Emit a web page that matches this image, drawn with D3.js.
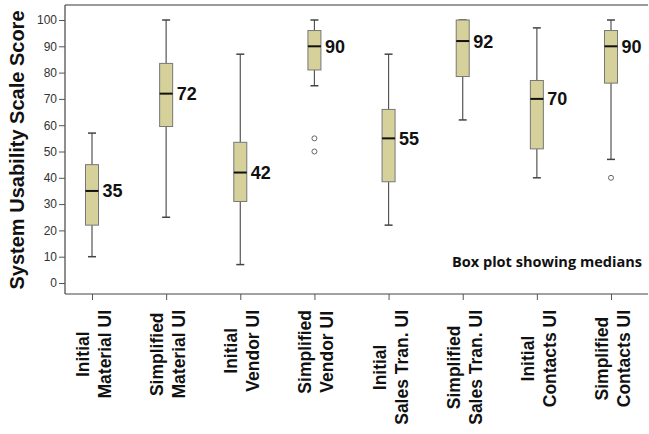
<!DOCTYPE html>
<html><head><meta charset="utf-8">
<script src="https://cdn.jsdelivr.net/npm/d3@7/dist/d3.min.js"></script>
<style>body{margin:0;background:#fff}svg{display:block}</style>
</head><body>
<script>
const categories = [
  ["Initial","Material UI"],["Simplified","Material UI"],
  ["Initial","Vendor UI"],["Simplified","Vendor UI"],
  ["Initial","Sales Tran. UI"],["Simplified","Sales Tran. UI"],
  ["Initial","Contacts UI"],["Simplified","Contacts UI"]
];
const whiskerLow  = [10, 25, 7, 75, 22, 62, 40, 47];
const q1          = [22, 59.5, 31, 81, 38.5, 78.5, 51, 76];
const medians     = [35, 72, 42, 90, 55, 92, 70, 90];
const q3          = [45, 83.5, 53.5, 96, 66, 100, 77, 96];
const whiskerHigh = [57, 100, 87, 100, 87, 100, 97, 100];
const outliers    = [[], [], [], [55, 50], [], [], [], [40]];
const yTicks = [0,10,20,30,40,50,60,70,80,90,100];
const yTitle = "System Usability Scale Score";
const note = "Box plot showing medians";

(function () {
const W = 649, H = 434;
const svg = d3.select("body").append("svg").attr("width", W).attr("height", H);
const pLeft = 65, pRight = 648, pTop = 5, pBottom = 294;

const x = d3.scalePoint().domain(d3.range(categories.length)).range([92, 611]);
const y = d3.scaleLinear().domain([0, 100]).range([283, 20]);

// frame
svg.append("line").attr("x1", pLeft).attr("x2", pRight).attr("y1", pTop).attr("y2", pTop)
  .attr("stroke", "#9a9a9a").attr("stroke-width", 2);
svg.append("line").attr("x1", pLeft).attr("x2", pLeft).attr("y1", pTop).attr("y2", pBottom)
  .attr("stroke", "#444").attr("stroke-width", 1.2);
svg.append("line").attr("x1", pLeft).attr("x2", pRight).attr("y1", pBottom).attr("y2", pBottom)
  .attr("stroke", "#444").attr("stroke-width", 1.2);

// y axis
const ya = svg.append("g").attr("transform", `translate(${pLeft},0)`)
  .call(d3.axisLeft(y).tickValues(yTicks).tickSize(6).tickPadding(2));
ya.select(".domain").remove();
ya.selectAll("line").attr("stroke", "#555");
ya.selectAll("text").attr("font-family", "Liberation Sans, Arial, sans-serif")
  .attr("font-size", 12).attr("fill", "#333");

// x axis ticks
const xa = svg.append("g").attr("transform", `translate(0,${pBottom})`)
  .call(d3.axisBottom(x).tickSize(6).tickFormat(""));
xa.select(".domain").remove();
xa.selectAll("line").attr("stroke", "#555");

// x labels
const labFont = "Liberation Sans, Arial, sans-serif";
categories.forEach((lines, i) => {
  const g = svg.append("g");
  const tx = x(i);
  const offs = [-3, 19];
  const texts = lines.map((s, j) => g.append("text").text(s)
    .attr("font-family", labFont).attr("font-weight", "bold").attr("font-size", 17.5)
    .attr("fill", "#111").attr("text-anchor", "middle"));
  const maxW = d3.max(texts, t => t.node().getComputedTextLength());
  texts.forEach((t, j) => {
    t.attr("transform", `translate(${tx + offs[j]},${310 + maxW / 2}) rotate(-90)`);
  });
});

// boxes
const bw = 13, cw = 8;
const g = svg.append("g");
categories.forEach((c, i) => {
  const cx = x(i);
  g.append("line").attr("x1", cx).attr("x2", cx).attr("y1", y(whiskerHigh[i])).attr("y2", y(q3[i]))
    .attr("stroke", "#555").attr("stroke-width", 1.2);
  g.append("line").attr("x1", cx).attr("x2", cx).attr("y1", y(q1[i])).attr("y2", y(whiskerLow[i]))
    .attr("stroke", "#555").attr("stroke-width", 1.2);
  [whiskerHigh[i], whiskerLow[i]].forEach(v => {
    g.append("line").attr("x1", cx - cw / 2).attr("x2", cx + cw / 2).attr("y1", y(v)).attr("y2", y(v))
      .attr("stroke", "#444").attr("stroke-width", 1.5);
  });
  g.append("rect").attr("x", cx - bw / 2).attr("width", bw)
    .attr("y", y(q3[i])).attr("height", y(q1[i]) - y(q3[i]))
    .attr("fill", "#d6d09a").attr("stroke", "#777").attr("stroke-width", 1);
  g.append("line").attr("x1", cx - bw / 2).attr("x2", cx + bw / 2)
    .attr("y1", y(medians[i])).attr("y2", y(medians[i]))
    .attr("stroke", "#111").attr("stroke-width", 2);
  outliers[i].forEach(v => {
    g.append("circle").attr("cx", cx).attr("cy", y(v)).attr("r", 2.5)
      .attr("fill", "#fff").attr("stroke", "#666").attr("stroke-width", 1);
  });
  g.append("text").attr("x", cx + bw / 2 + 4).attr("y", y(medians[i]))
    .attr("dy", "0.36em").text(medians[i])
    .attr("font-family", labFont).attr("font-weight", "bold").attr("font-size", 18)
    .attr("fill", "#111");
});

// y title
svg.append("text").text(yTitle)
  .attr("transform", `translate(24,150) rotate(-90)`)
  .attr("text-anchor", "middle")
  .attr("font-family", labFont).attr("font-weight", "bold").attr("font-size", 20)
  .attr("fill", "#111");

// note
svg.append("text").text(note).attr("x", 452).attr("y", 267)
  .attr("font-family", "Open Sans, sans-serif").attr("font-weight", "bold").attr("font-size", 14.5)
  .attr("textLength", 190).attr("lengthAdjust", "spacingAndGlyphs")
  .attr("fill", "#111");
})();
</script>
</body></html>
